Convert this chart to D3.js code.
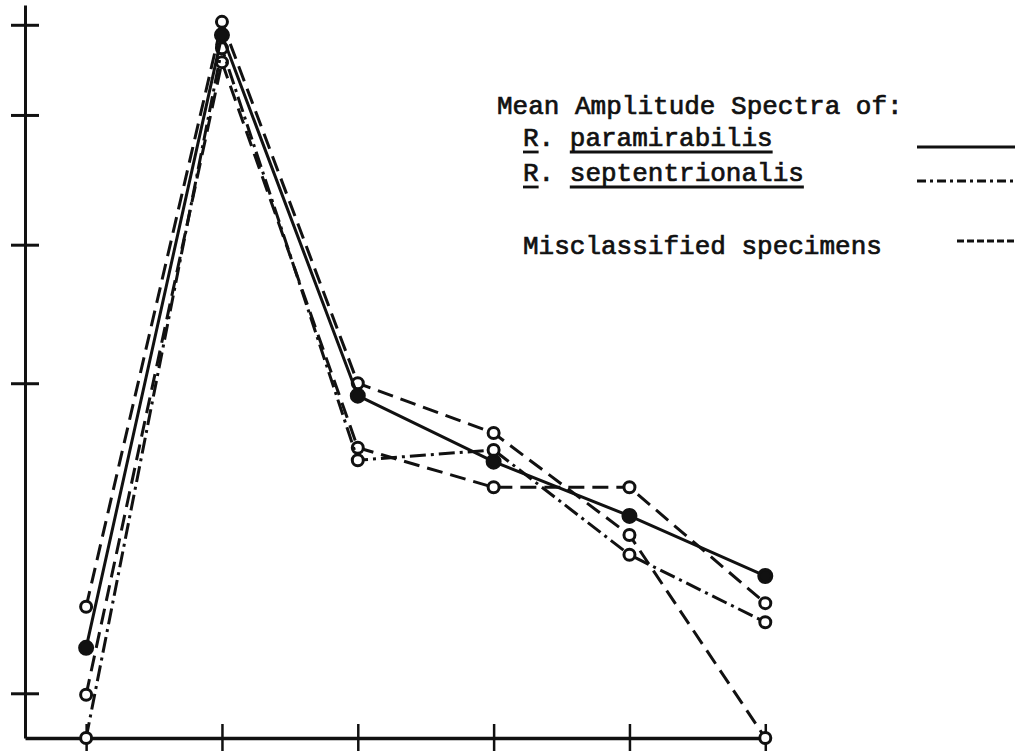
<!DOCTYPE html>
<html>
<head>
<meta charset="utf-8">
<script src="https://cdn.jsdelivr.net/npm/d3@7"></script>
<style>
  body { margin: 0; background: #fff; }
  text { font-family: "Liberation Mono", "DejaVu Sans Mono", monospace; fill: #111; stroke: #111; stroke-width: 0.7; }
</style>
</head>
<body>
<div id="G"></div>
<script>
// harmonic number on the x axis
var harmonics = [1, 2, 3, 4, 5, 6];
// mean amplitudes (relative units)
var paramirabilis = [0.123, 0.959, 0.467, 0.377, 0.303, 0.221];
var septentrionalis = [0.0, 0.941, 0.379, 0.393, 0.250, 0.158];
var misclassA = [0.179, 0.977, 0.484, 0.416, 0.277, 0.0];
var misclassB = [0.059, 0.922, 0.396, 0.342, 0.342, 0.184];
var yTicks = [0.061, 0.484, 0.673, 0.850, 0.973];

var W = 1035, H = 755;

var svg = d3.select("#G")
  .append("svg")
  .attr("width", W)
  .attr("height", H);

// X - axis
var x = d3.scaleLinear()
  .domain([0.55, 6.02])
  .range([25, 768]);

var y = d3.scaleLinear()
  .domain([0, 1])
  .range([738, 5]);

var yAxis = svg.append("g")
  .attr("transform", "translate(25,0)")
  .call(d3.axisLeft(y).tickValues(yTicks).tickFormat("").tickSizeOuter(0));
yAxis.select(".domain").attr("stroke", "#111").attr("stroke-width", 3);
yAxis.selectAll(".tick line")
  .attr("x1", -14).attr("x2", 14)
  .attr("stroke", "#111").attr("stroke-width", 3);

var xAxis = svg.append("g")
  .attr("transform", "translate(0,738)")
  .call(d3.axisBottom(x).tickValues(harmonics).tickFormat("").tickSizeOuter(0));
xAxis.select(".domain").attr("stroke", "#111").attr("stroke-width", 3.5);
xAxis.selectAll(".tick line")
  .attr("y1", -14).attr("y2", 13)
  .attr("stroke", "#111").attr("stroke-width", 2.5);

var series = [
  { name: "misclassA", vals: misclassA, dash: "16,8", filled: false },
  { name: "misclassB", vals: misclassB, dash: "16,8", filled: false },
  { name: "septentrionalis", vals: septentrionalis, dash: "16,5,3,5", filled: false },
  { name: "paramirabilis", vals: paramirabilis, dash: null, filled: true }
];

var line = d3.line()
  .x(function (d, i) { return x(harmonics[i]) })
  .y(function (d) { return y(d) });

// Plotting
series.forEach(function (s) {
  svg.append("path")
    .datum(s.vals)
    .attr("fill", "none")
    .attr("stroke", "#111")
    .attr("stroke-width", 3)
    .attr("stroke-dasharray", s.dash)
    .attr("d", line);

  svg.selectAll(null)
    .data(s.vals)
    .enter()
    .append("circle")
    .attr("cx", function (d, i) { return x(harmonics[i]) })
    .attr("cy", function (d) { return y(d) })
    .attr("r", s.filled ? 6.5 : 5.5)
    .attr("fill", s.filled ? "#111" : "#fff")
    .attr("stroke", "#111")
    .attr("stroke-width", 3);
});

// Legend
var fs = 26;
svg.append("text").attr("x", 497).attr("y", 114).attr("font-size", fs)
  .text("Mean Amplitude Spectra of:");

function underlined(txt, ypos, ranges) {
  var t = svg.append("text").attr("x", 523).attr("y", ypos).attr("font-size", fs).text(txt);
  var node = t.node();
  ranges.forEach(function (r) {
    var x0 = node.getStartPositionOfChar(r[0]).x;
    var x1 = node.getEndPositionOfChar(r[1]).x;
    svg.append("line")
      .attr("x1", x0).attr("x2", x1)
      .attr("y1", ypos + 6).attr("y2", ypos + 6)
      .attr("stroke", "#111").attr("stroke-width", 2.8);
  });
}
underlined("R. paramirabilis", 146, [[0, 0], [3, 15]]);
underlined("R. septentrionalis", 181, [[0, 0], [3, 17]]);

svg.append("text").attr("x", 523).attr("y", 254).attr("font-size", fs)
  .text("Misclassified specimens");

svg.append("line").attr("x1", 917).attr("x2", 1015).attr("y1", 147).attr("y2", 147)
  .attr("stroke", "#111").attr("stroke-width", 3.2);
svg.append("line").attr("x1", 917).attr("x2", 1017).attr("y1", 181).attr("y2", 181)
  .attr("stroke", "#111").attr("stroke-width", 3).attr("stroke-dasharray", "9,4,3,4");
svg.append("line").attr("x1", 957).attr("x2", 1017).attr("y1", 241).attr("y2", 241)
  .attr("stroke", "#111").attr("stroke-width", 3).attr("stroke-dasharray", "7,3");
</script>
</body>
</html>
